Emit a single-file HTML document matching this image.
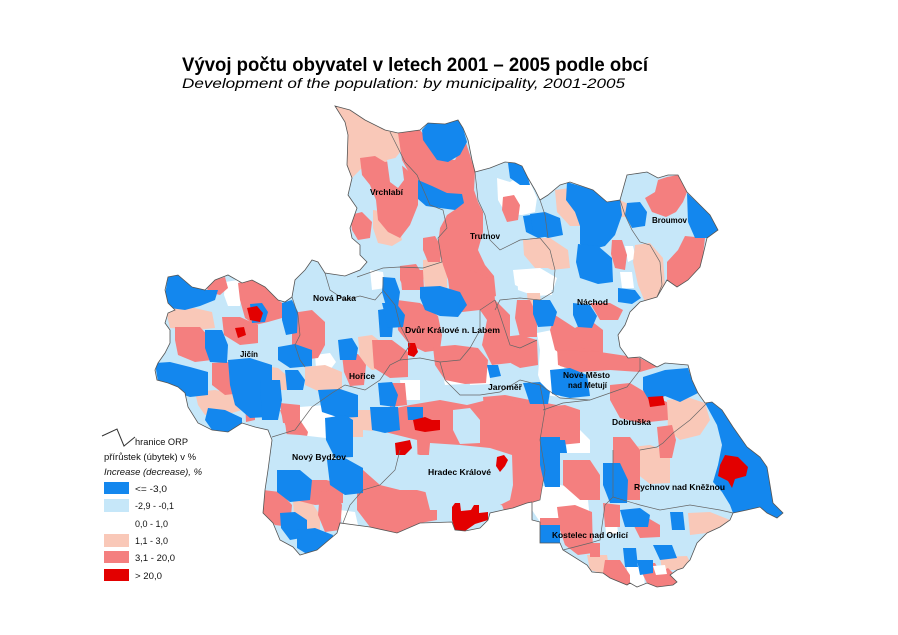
<!DOCTYPE html>
<html><head><meta charset="utf-8"><style>
html,body{margin:0;padding:0;background:#fff;}
svg{display:block;}
text{font-family:"Liberation Sans",Arial,sans-serif;}
.lb{font-weight:bold;font-size:8.5px;fill:#000;}
.lg{font-size:9.5px;fill:#111;}
</style></head><body>
<svg width="898" height="635" viewBox="0 0 898 635" xmlns="http://www.w3.org/2000/svg">
<defs>
<clipPath id="reg"><polygon id="outl" points="335,106 350,110 365,120 385,130 398,133 420,130 428,123 445,124 458,120 463,128 468,140 472,160 475,172 490,168 505,162 515,163 522,166 528,178 535,190 540,200 548,195 560,185 570,182 593,190 607,202 620,200 627,175 647,172 658,178 668,175 678,175 687,192 700,205 710,215 718,230 707,238 703,255 700,267 688,280 677,287 667,280 657,297 640,302 630,312 625,325 618,335 620,347 628,358 640,357 657,367 665,363 688,365 692,380 698,393 705,403 712,402 722,410 733,427 747,447 760,457 767,467 770,485 773,503 783,513 777,518 767,513 760,507 747,510 733,513 730,520 720,527 707,533 697,543 690,560 687,563 683,568 677,570 670,575 677,582 673,585 657,587 647,583 637,587 630,583 627,585 610,578 603,573 592,572 587,565 563,550 560,543 540,543 540,522 532,520 532,502 527,503 513,508 503,510 490,513 488,520 480,528 465,531 455,530 452,522 420,523 397,533 370,527 340,523 337,533 317,550 300,555 293,547 280,540 273,523 263,513 265,490 268,470 270,455 272,440 268,430 255,427 242,423 228,432 212,430 198,423 188,407 185,393 178,387 168,383 157,380 155,370 158,363 165,353 170,343 170,330 165,323 168,313 175,310 168,303 165,290 168,277 178,275 192,287 205,290 215,280 228,275 242,283 252,280 265,287 278,300 285,302 292,297 295,280 305,270 312,260 318,262 325,273 345,276 360,270 367,262 360,255 360,245 352,238 350,228 357,208 348,195 352,178 347,165 348,135 345,122"/></clipPath>
</defs>

<!-- Title -->
<text x="182" y="71" font-size="19" font-weight="bold" textLength="466" lengthAdjust="spacingAndGlyphs">Vývoj počtu obyvatel v letech 2001 – 2005 podle obcí</text>
<text x="182" y="88" font-size="14" font-style="italic" textLength="443" lengthAdjust="spacingAndGlyphs">Development of the population: by municipality, 2001-2005</text>

<g clip-path="url(#reg)">
<rect x="140" y="100" width="660" height="500" fill="#c6e7f9"/>
<g fill="#ffffff">
<polygon points="497,178 510,182 520,176 530,182 537,198 535,212 522,215 506,214 498,200"/>
<polygon points="517,272 535,270 550,280 552,295 535,296 518,290"/>
<polygon points="625,246 633,246 636,258 628,262"/>
<polygon points="620,272 632,272 634,288 622,288"/>
<polygon points="442,370 462,370 465,384 445,385"/>
<polygon points="467,367 480,362 490,370 490,384 470,385"/>
<polygon points="537,333 552,330 562,345 565,375 560,397 545,395 538,375 540,350"/>
<polygon points="370,270 383,272 385,288 372,290"/>
<polygon points="513,270 540,268 557,278 553,290 530,292 515,285"/>
<polygon points="225,282 238,280 242,292 240,306 228,306 224,295"/>
<polygon points="315,355 330,353 336,362 330,370 316,368"/>
<polygon points="300,407 325,405 338,415 340,440 330,450 305,448 298,430"/>
<polygon points="340,510 355,512 358,525 343,527"/>
<polygon points="400,380 420,380 420,400 402,400"/>
<polygon points="565,430 580,430 590,440 590,453 567,453"/>
<polygon points="532,487 560,485 587,490 590,520 570,527 540,522 532,510"/>
<polygon points="605,521 617,521 618,534 606,534"/>
<polygon points="627,563 643,563 645,587 637,587 627,587"/>
</g>
<g fill="#f9c8b8">
<polygon points="335,106 350,110 365,120 385,130 398,133 402,150 392,162 378,168 362,168 352,178 347,165 348,135 345,122"/>
<polygon points="373,210 388,212 398,222 402,240 392,246 378,243 373,228"/>
<polygon points="423,260 440,258 448,270 446,290 430,292 423,278"/>
<polygon points="523,240 540,240 552,252 550,268 535,268 524,255"/>
<polygon points="555,190 570,188 585,196 592,212 588,226 570,226 557,212"/>
<polygon points="530,238 550,238 568,250 570,268 552,270 535,262"/>
<polygon points="607,200 620,200 632,206 630,216 615,218"/>
<polygon points="635,245 650,243 663,258 665,285 660,300 645,302 638,285 633,262"/>
<polygon points="423,270 447,270 447,290 425,290"/>
<polygon points="527,293 540,293 541,307 528,307"/>
<polygon points="165,307 190,307 212,312 215,328 195,330 170,328"/>
<polygon points="195,392 215,390 240,395 242,410 225,415 205,415 198,405"/>
<polygon points="258,365 278,368 290,378 288,390 270,390 260,380"/>
<polygon points="305,367 325,365 342,372 342,390 320,392 305,385"/>
<polygon points="358,337 372,335 385,345 385,368 372,370 360,360"/>
<polygon points="513,430 535,430 537,450 515,450"/>
<polygon points="520,455 540,455 540,475 522,475"/>
<polygon points="293,500 310,500 320,515 320,540 305,542 295,530"/>
<polygon points="347,410 372,410 373,437 350,437"/>
<polygon points="383,420 405,418 407,440 388,440"/>
<polygon points="667,400 690,398 705,403 710,420 700,435 680,440 668,430"/>
<polygon points="632,447 650,445 670,452 670,483 650,484 632,470"/>
<polygon points="688,513 710,512 730,520 720,527 707,533 690,535"/>
<polygon points="660,557 687,556 690,562 683,568 677,570 662,570"/>
<polygon points="587,555 607,555 610,573 600,573 590,570"/>
</g>
<g fill="#f47f7f">
<polygon points="398,133 420,130 428,140 440,158 455,160 465,140 470,155 475,172 474,190 462,196 445,194 428,187 412,178 402,160"/>
<polygon points="360,158 375,156 385,162 395,160 405,168 418,180 418,205 410,225 400,238 388,232 378,220 376,200 370,185 362,175"/>
<polygon points="350,215 362,212 372,222 370,238 358,240 352,230"/>
<polygon points="462,194 474,190 478,202 483,212 483,232 478,250 485,265 494,276 496,296 478,302 460,298 450,285 443,265 438,245 440,228 447,215 456,209"/>
<polygon points="423,238 435,236 442,248 440,262 428,262 423,250"/>
<polygon points="400,266 416,264 423,275 422,290 405,290 400,280"/>
<polygon points="503,197 514,195 520,205 518,220 507,222 502,210"/>
<polygon points="612,240 622,240 627,255 625,270 615,268 611,254"/>
<polygon points="658,180 667,177 678,175 687,192 683,202 676,212 666,217 652,212 645,198 655,192"/>
<polygon points="685,236 705,238 703,255 700,267 688,280 677,287 667,280 667,262 678,250"/>
<polygon points="555,315 575,328 590,320 603,330 603,355 590,362 570,360 555,350 550,330"/>
<polygon points="590,303 610,303 623,310 618,320 600,320"/>
<polygon points="397,300 420,303 438,316 442,335 440,350 425,352 410,345 398,330"/>
<polygon points="433,347 455,345 478,348 488,360 486,383 465,384 445,380 435,365"/>
<polygon points="503,337 520,335 537,340 538,365 520,368 505,360"/>
<polygon points="557,347 580,347 597,352 598,367 575,370 558,365"/>
<polygon points="517,300 530,300 537,315 537,337 520,337 515,318"/>
<polygon points="483,397 505,395 530,400 557,405 557,430 530,432 505,428 485,420"/>
<polygon points="447,270 470,270 493,280 495,300 510,315 510,363 492,365 482,345 487,320 480,310 462,312 450,295"/>
<polygon points="400,270 423,270 424,290 402,290"/>
<polygon points="205,278 215,280 225,277 228,288 220,295 208,292"/>
<polygon points="238,283 252,280 265,287 278,300 285,305 282,318 268,322 255,325 245,318 240,300"/>
<polygon points="175,327 200,327 212,340 212,360 195,362 178,355 175,340"/>
<polygon points="222,317 240,317 258,325 258,343 240,345 224,335"/>
<polygon points="292,313 312,310 325,322 325,345 318,358 300,360 292,345"/>
<polygon points="212,363 230,362 242,372 242,393 225,395 212,385"/>
<polygon points="245,400 255,398 255,420 246,422"/>
<polygon points="280,410 298,412 300,428 287,430"/>
<polygon points="342,355 358,354 366,365 364,385 350,386 344,372"/>
<polygon points="285,422 300,420 308,432 305,445 288,445"/>
<polygon points="372,340 392,340 408,352 408,377 390,378 374,368"/>
<polygon points="387,410 410,405 440,400 467,405 487,400 510,400 543,410 547,440 545,470 540,500 520,507 500,505 490,470 470,455 440,455 420,455 400,450 387,440"/>
<polygon points="357,467 380,470 400,490 417,490 437,495 437,520 420,523 397,533 370,527 357,510"/>
<polygon points="293,477 320,478 343,485 343,503 315,505 295,500"/>
<polygon points="263,490 280,492 292,505 290,527 275,525 263,513"/>
<polygon points="320,492 335,490 342,505 340,530 325,532 318,515"/>
<polygon points="280,403 300,405 300,423 283,423"/>
<polygon points="387,383 405,383 407,405 390,407"/>
<polygon points="557,350 600,352 640,358 657,367 640,372 610,370 580,372 560,366"/>
<polygon points="610,385 630,383 650,395 667,402 668,420 640,423 620,418 610,400"/>
<polygon points="657,427 672,425 676,440 672,458 660,458"/>
<polygon points="613,437 630,437 640,450 640,500 625,500 613,475"/>
<polygon points="540,407 565,405 580,410 580,443 560,445 540,440"/>
<polygon points="563,460 590,460 600,475 600,500 580,500 563,485"/>
<polygon points="557,507 575,505 592,512 593,553 578,555 565,545 560,530"/>
<polygon points="603,503 620,505 620,527 605,527"/>
<polygon points="630,518 648,518 660,525 660,537 640,538"/>
<polygon points="643,563 655,563 660,572 668,568 675,575 677,582 673,585 657,587 647,583 643,575"/>
<polygon points="605,560 620,560 630,575 630,583 627,585 610,578 603,573"/>
<polygon points="590,543 600,543 600,557 590,557"/>
<polygon points="540,518 567,518 567,528 540,528"/>
<polygon points="500,500 530,500 530,513 505,513"/>
</g>
<g fill="#c6e7f9">
<polygon points="387,160 395,158 402,165 404,180 398,188 390,182"/>
<polygon points="453,410 470,408 480,420 480,443 460,444 453,430"/>
<polygon points="430,443 460,445 490,448 512,455 513,485 510,500 490,510 470,510 445,505 430,490 428,465"/>
<polygon points="363,430 385,432 417,440 418,470 417,490 400,490 380,485 363,470"/>
<polygon points="425,490 450,490 450,510 430,510"/>
<polygon points="270,433 300,435 343,440 343,480 300,480 270,475"/>
</g>
<g fill="#1387ee">
<polygon points="422,130 428,123 445,124 458,120 463,128 467,142 460,155 448,162 437,160 430,150 423,140"/>
<polygon points="418,180 432,186 447,193 462,194 464,203 455,210 440,208 426,206 418,199"/>
<polygon points="508,163 515,163 522,166 528,178 530,185 520,185 510,178"/>
<polygon points="523,216 538,214 548,222 550,236 538,238 526,232"/>
<polygon points="567,182 593,190 607,202 620,200 622,215 615,235 605,246 590,250 580,244 580,226 575,212 566,200"/>
<polygon points="530,214 545,212 560,218 563,235 548,238 533,232"/>
<polygon points="578,244 598,246 612,258 613,282 598,284 580,278 576,262"/>
<polygon points="627,203 640,202 647,212 645,226 632,228 625,215"/>
<polygon points="687,193 700,205 710,215 718,230 707,238 695,238 688,222"/>
<polygon points="618,288 635,290 641,298 632,304 618,302"/>
<polygon points="573,303 590,305 597,316 592,328 578,327 573,315"/>
<polygon points="533,300 550,300 557,312 553,326 538,327 533,314"/>
<polygon points="383,277 395,278 400,292 398,307 386,306 382,292"/>
<polygon points="420,287 440,286 460,292 467,305 458,317 440,316 425,310 420,298"/>
<polygon points="487,365 498,365 501,376 490,378"/>
<polygon points="550,370 570,368 587,375 590,396 570,398 552,394"/>
<polygon points="523,383 540,382 550,392 548,404 530,404"/>
<polygon points="168,277 178,275 192,287 205,290 218,290 215,300 200,306 185,310 170,308 165,295"/>
<polygon points="250,304 262,303 268,312 265,322 252,323"/>
<polygon points="282,303 292,300 298,312 297,333 286,335 282,320"/>
<polygon points="205,330 222,330 228,345 227,363 210,362 205,348"/>
<polygon points="278,347 295,344 312,350 312,366 290,368 278,360"/>
<polygon points="155,363 170,362 190,367 208,372 208,395 190,397 175,392 158,382"/>
<polygon points="228,360 250,358 272,365 272,395 268,417 250,418 235,405 230,385"/>
<polygon points="208,408 225,410 242,418 242,430 228,432 212,430 205,420"/>
<polygon points="285,370 298,370 305,380 303,390 287,390"/>
<polygon points="338,340 352,338 358,348 356,360 340,360"/>
<polygon points="318,390 340,389 358,395 358,417 340,418 322,412"/>
<polygon points="325,418 345,415 353,420 353,457 335,458 326,440"/>
<polygon points="378,310 390,308 393,325 392,337 380,337"/>
<polygon points="378,383 392,382 398,395 395,407 380,405"/>
<polygon points="382,303 396,303 405,315 403,327 388,328"/>
<polygon points="540,437 560,437 560,487 545,487 540,465"/>
<polygon points="277,470 300,470 312,480 310,500 290,502 277,492"/>
<polygon points="327,460 345,458 363,468 363,493 345,495 330,485"/>
<polygon points="280,513 295,512 307,520 307,537 290,540 281,528"/>
<polygon points="297,530 315,528 333,535 330,553 310,556 297,548"/>
<polygon points="260,380 280,380 282,400 278,420 262,420"/>
<polygon points="370,407 398,407 400,430 385,433 372,430"/>
<polygon points="407,407 423,407 423,420 408,420"/>
<polygon points="643,377 665,370 688,368 692,380 698,393 680,402 665,396 650,402 643,390"/>
<polygon points="705,403 712,402 722,410 733,427 747,447 760,457 767,467 770,485 773,503 783,513 777,518 767,513 760,507 747,510 733,513 730,505 722,492 713,482 718,465 722,445 717,425"/>
<polygon points="603,463 620,463 628,480 627,503 610,503 603,485"/>
<polygon points="552,440 565,440 567,453 552,453"/>
<polygon points="620,510 640,508 650,515 648,527 625,527"/>
<polygon points="670,512 683,512 685,530 672,530"/>
<polygon points="623,548 636,548 638,567 625,567"/>
<polygon points="637,560 653,560 653,573 640,575"/>
<polygon points="653,545 672,545 677,558 660,560"/>
<polygon points="540,525 560,525 560,543 540,543"/>
</g>
<g fill="#ffffff">
<polygon points="653,566 665,565 667,574 656,575"/>
</g>
<g fill="#e30000">
<polygon points="408,343 415,343 418,352 414,357 408,355"/>
<polygon points="247,308 257,306 263,313 260,322 250,320"/>
<polygon points="235,328 244,327 246,335 238,338"/>
<polygon points="413,420 425,417 432,420 440,420 440,430 425,432 415,430"/>
<polygon points="395,443 410,440 412,448 405,455 396,455"/>
<polygon points="497,457 504,455 508,460 505,466 500,472 496,466"/>
<polygon points="452,507 455,503 460,503 461,511 471,510 474,505 479,505 479,513 488,512 488,520 475,524 465,531 455,530 452,520"/>
<polygon points="648,397 663,396 665,405 650,407"/>
<polygon points="725,455 738,457 748,467 746,476 735,479 732,488 728,481 718,476 720,465"/>
</g>
<!-- ORP internal boundaries -->
<g fill="none" stroke="#666" stroke-width="0.7">
<polyline points="390,132 405,162 417,175 430,205 443,210 447,228 438,238 442,262 423,268 400,267 383,268 357,277"/>
<polyline points="475,172 478,200 485,215 490,240 500,250 520,240 540,238 550,250 555,270 553,292 540,300 520,298 500,300 495,310"/>
<polyline points="540,200 545,215 548,238"/>
<polyline points="620,200 625,215 632,230 640,242 650,245 660,262 662,285 657,297"/>
<polyline points="325,273 330,290 345,300 360,296 375,300 382,292"/>
<polyline points="292,297 298,315 300,335 295,345 300,360 305,367"/>
<polyline points="272,437 295,430 312,407 332,393 345,385 365,390 380,380 390,365 400,360 410,345 400,325 395,305 383,290 383,277"/>
<polyline points="400,360 420,358 440,362 460,360 470,348 480,330 480,310 495,300"/>
<polyline points="440,362 445,380 460,395 480,395 500,392 520,380 540,385 560,398 590,400 610,393 627,387 640,370 640,358"/>
<polyline points="495,300 505,330 510,345 520,348 537,340"/>
<polyline points="540,385 545,410 540,440 545,470 540,500 533,502"/>
<polyline points="400,450 395,470 380,485 363,490 350,505 343,523"/>
<polyline points="543,410 563,403 590,400"/>
<polyline points="640,450 657,447 663,443 673,433 690,420 707,403"/>
<polyline points="613,450 613,497 605,505 600,540 590,543 563,550"/>
<polyline points="613,497 640,505 660,510 690,505 720,510 733,513"/>
</g>
</g>
<use href="#outl" fill="none" stroke="#555" stroke-width="0.8"/>

<!-- Map labels -->
<text class="lb" x="370" y="195" textLength="33" lengthAdjust="spacingAndGlyphs">Vrchlabí</text>
<text class="lb" x="470" y="239" textLength="30" lengthAdjust="spacingAndGlyphs">Trutnov</text>
<text class="lb" x="652" y="223" textLength="35" lengthAdjust="spacingAndGlyphs">Broumov</text>
<text class="lb" x="577" y="305" textLength="31" lengthAdjust="spacingAndGlyphs">Náchod</text>
<text class="lb" x="313" y="301" textLength="43" lengthAdjust="spacingAndGlyphs">Nová Paka</text>
<text class="lb" x="240" y="357" textLength="18" lengthAdjust="spacingAndGlyphs">Jičín</text>
<text class="lb" x="349" y="379" textLength="26" lengthAdjust="spacingAndGlyphs">Hořice</text>
<text class="lb" x="405" y="333" textLength="95" lengthAdjust="spacingAndGlyphs">Dvůr Králové n. Labem</text>
<text class="lb" x="488" y="390" textLength="34" lengthAdjust="spacingAndGlyphs">Jaroměř</text>
<text class="lb" x="563" y="378" textLength="47" lengthAdjust="spacingAndGlyphs">Nové Město</text>
<text class="lb" x="568" y="388" textLength="39" lengthAdjust="spacingAndGlyphs">nad Metují</text>
<text class="lb" x="612" y="425" textLength="39" lengthAdjust="spacingAndGlyphs">Dobruška</text>
<text class="lb" x="634" y="490" textLength="91" lengthAdjust="spacingAndGlyphs">Rychnov nad Kněžnou</text>
<text class="lb" x="552" y="538" textLength="76" lengthAdjust="spacingAndGlyphs">Kostelec nad Orlicí</text>
<text class="lb" x="292" y="460" textLength="54" lengthAdjust="spacingAndGlyphs">Nový Bydžov</text>
<text class="lb" x="428" y="475" textLength="63" lengthAdjust="spacingAndGlyphs">Hradec Králové</text>

<!-- Legend -->
<polyline points="102,436 117,429 124,446 135,437" fill="none" stroke="#333" stroke-width="1"/>
<text class="lg" x="135" y="445" textLength="53" lengthAdjust="spacingAndGlyphs">hranice ORP</text>
<text class="lg" x="104" y="460" textLength="92" lengthAdjust="spacingAndGlyphs">přírůstek (úbytek) v %</text>
<text class="lg" x="104" y="475" font-style="italic" textLength="98" lengthAdjust="spacingAndGlyphs">Increase (decrease), %</text>
<rect x="104" y="482" width="25" height="12" fill="#1387ee"/>
<rect x="104" y="499" width="25" height="13" fill="#c6e7f9"/>
<rect x="104" y="534" width="25" height="13" fill="#f9c8b8"/>
<rect x="104" y="551" width="25" height="12" fill="#f47f7f"/>
<rect x="104" y="569" width="25" height="12" fill="#e30000"/>
<text class="lg" x="135" y="492" textLength="32" lengthAdjust="spacingAndGlyphs">&lt;=  -3,0</text>
<text class="lg" x="135" y="509" textLength="39" lengthAdjust="spacingAndGlyphs">-2,9 - -0,1</text>
<text class="lg" x="135" y="527" textLength="33" lengthAdjust="spacingAndGlyphs">0,0 - 1,0</text>
<text class="lg" x="135" y="544" textLength="33" lengthAdjust="spacingAndGlyphs">1,1 - 3,0</text>
<text class="lg" x="135" y="561" textLength="40" lengthAdjust="spacingAndGlyphs">3,1 - 20,0</text>
<text class="lg" x="135" y="579" textLength="27" lengthAdjust="spacingAndGlyphs">&gt; 20,0</text>
</svg>
</body></html>
